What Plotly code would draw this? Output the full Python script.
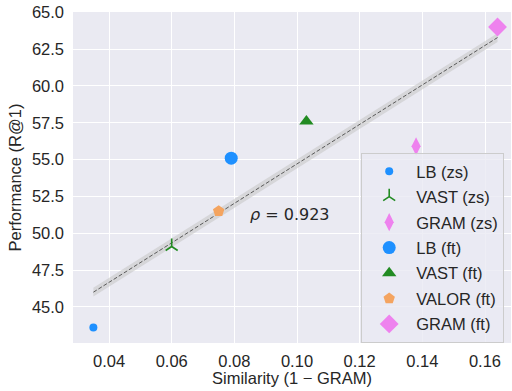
import numpy as np
import plotly.graph_objects as go

# ---- data ----
labels = ["LB (zs)", "VAST (zs)", "GRAM (zs)", "LB (ft)", "VAST (ft)", "VALOR (ft)", "GRAM (ft)"]
similarity = [0.035, 0.060, 0.138, 0.079, 0.103, 0.075, 0.164]
performance = [43.6, 49.1, 55.9, 55.1, 57.6, 51.5, 64.0]
rho_text = "0.923"
x_ticks = [0.04, 0.06, 0.08, 0.10, 0.12, 0.14, 0.16]
y_ticks = [45.0, 47.5, 50.0, 52.5, 55.0, 57.5, 60.0, 62.5, 65.0]

# ---- styles ----
colors = ["#1E90FF", "#228B22", "#EE82EE", "#1E90FF", "#228B22", "#F4A460", "#EE82EE"]
symbols = ["circle", "y-up-open", "diamond-tall", "circle", "triangle-up", "pentagon", "diamond"]
sizes = [8, 10, 13, 13, 12.5, 12, 14.5]

FONT = "Liberation Sans, Arial, sans-serif"
FS = 16.5
TXT = "#262626"

fig = go.Figure()

# regression line with band
xs = np.array(similarity)
ys = np.array(performance)
slope, intercept = np.polyfit(xs, ys, 1)
xl = np.linspace(xs.min(), xs.max(), 50)
yl = slope * xl + intercept
half = 0.3
fig.add_trace(go.Scatter(
    x=np.concatenate([xl, xl[::-1]]),
    y=np.concatenate([yl + half, (yl - half)[::-1]]),
    fill="toself", fillcolor="rgba(200,200,200,0.6)", line=dict(width=0),
    showlegend=False, hoverinfo="skip"))
fig.add_trace(go.Scatter(x=xl, y=yl, mode="lines",
                         line=dict(color="#5a5a5a", width=1.0, dash="4px,2px"),
                         showlegend=False, hoverinfo="skip"))

for i, name in enumerate(labels):
    sym = symbols[i]
    marker = dict(color=colors[i], size=sizes[i], symbol=sym)
    if sym.endswith("open"):
        marker["line"] = dict(color=colors[i], width=1.6)
    else:
        marker["line"] = dict(width=0)
    fig.add_trace(go.Scatter(x=[similarity[i]], y=[performance[i]], mode="markers",
                             name=name, marker=marker, legendgroup=name))

fig.add_annotation(x=0.0843, y=51.25, xref="x", yref="y", xanchor="left", yanchor="middle",
                   text="<i>ρ</i> = " + rho_text, showarrow=False,
                   font=dict(family="DejaVu Sans", size=16, color=TXT))

fig.update_layout(
    width=512, height=391,
    margin=dict(l=73, r=1, t=12, b=48, autoexpand=False),
    paper_bgcolor="white", plot_bgcolor="#EAEAF2",
    font=dict(family=FONT, size=FS, color=TXT),
    showlegend=True,
    legend=dict(x=0.658, y=0.574, xanchor="left", yanchor="top",
                bgcolor="rgba(234,234,242,0.8)", bordercolor="#CCCCCC", borderwidth=1,
                font=dict(family=FONT, size=FS, color=TXT),
                traceorder="grouped", tracegroupgap=1, itemsizing="trace",
                itemwidth=44),
)
fig.update_xaxes(range=[0.0285, 0.1683], tickvals=x_ticks, tickformat=".2f",
                 showgrid=True, gridcolor="white", gridwidth=1.2, zeroline=False,
                 showline=False, ticks="", ticklabelstandoff=6, automargin=False,
                 title=dict(text="Similarity (1 − GRAM)", standoff=2,
                            font=dict(family=FONT, size=FS, color=TXT)))
fig.update_yaxes(range=[42.55, 65.02], tickvals=y_ticks, tickformat=".1f",
                 showgrid=True, gridcolor="white", gridwidth=1.2, zeroline=False,
                 showline=False, ticks="", ticklabelstandoff=8, automargin=False,
                 title=dict(text="Performance (R@1)", standoff=6,
                            font=dict(family=FONT, size=FS, color=TXT)))

fig.write_html("out.html", config={"displayModeBar": False},
               post_script="document.body.style.margin='0';document.body.style.overflow='hidden';")
